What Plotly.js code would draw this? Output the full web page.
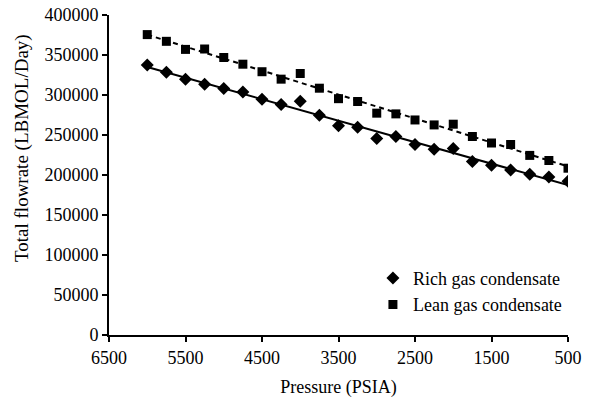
<!DOCTYPE html>
<html>
<head>
<meta charset="utf-8">
<script src="https://cdn.plot.ly/plotly-3.0.1.min.js"></script>
<style>
html,body{margin:0;padding:0;background:#fff;}
#chart{width:589px;height:411px;}
</style>
</head>
<body>
<div id="chart"></div>
<script>
// Data
const pressure = [6000, 5750, 5500, 5250, 5000, 4750, 4500, 4250, 4000, 3750, 3500, 3250,
                  3000, 2750, 2500, 2250, 2000, 1750, 1500, 1250, 1000, 750, 500];
const richGas = [337500, 328500, 319800, 313500, 308000, 303900, 294800, 288100, 292300, 274800, 261500, 259800,
                 245600, 248100, 238100, 232300, 233100, 216900, 212300, 206400, 201000, 197600, 192300];
const leanGas = [375500, 367100, 357000, 357500, 346900, 338500, 329100, 319800, 326900, 308500, 295400, 291900,
                 277300, 276400, 268800, 262600, 263500, 248100, 240000, 238100, 224500, 218100, 208500];
const xTicks = [6500, 5500, 4500, 3500, 2500, 1500, 500];
const yTicks = [0, 50000, 100000, 150000, 200000, 250000, 300000, 350000, 400000];
const seriesNames = ["Rich gas condensate", "Lean gas condensate"];

function linFit(xs, ys) {
  const n = xs.length;
  let sx = 0, sy = 0, sxx = 0, sxy = 0;
  for (let i = 0; i < n; i++) { sx += xs[i]; sy += ys[i]; sxx += xs[i]*xs[i]; sxy += xs[i]*ys[i]; }
  const b = (n*sxy - sx*sy) / (n*sxx - sx*sx);
  const a = (sy - b*sx) / n;
  const x0 = Math.max(...xs), x1 = Math.min(...xs);
  return {x: [x0, x1], y: [a + b*x0, a + b*x1]};
}
const richFit = linFit(pressure, richGas);
const leanFit = linFit(pressure, leanGas);

const FONT = "'Liberation Serif', 'Times New Roman', serif";

const traces = [
  {x: richFit.x, y: richFit.y, mode: 'lines', line: {color: '#000', width: 2}, showlegend: false, hoverinfo: 'skip'},
  {x: leanFit.x, y: leanFit.y, mode: 'lines', line: {color: '#000', width: 2, dash: '5px,4px'}, showlegend: false, hoverinfo: 'skip'},
  {x: pressure, y: richGas, mode: 'markers', name: seriesNames[0],
   marker: {symbol: 'diamond', size: 10, color: '#000'}},
  {x: pressure, y: leanGas, mode: 'markers', name: seriesNames[1],
   marker: {symbol: 'square', size: 9, color: '#000'}}
];

const layout = {
  width: 589, height: 411,
  margin: {l: 109, r: 21, t: 15, b: 76, pad: 0},
  paper_bgcolor: '#fff', plot_bgcolor: '#fff',
  font: {family: FONT, size: 18, color: '#000'},
  showlegend: true,
  legend: {x: 0.575, y: 0.235, xanchor: 'left', yanchor: 'top', bgcolor: 'rgba(0,0,0,0)',
           font: {family: FONT, size: 18, color: '#000'}, tracegroupgap: 0},
  xaxis: {
    range: [6500, 500], tickvals: xTicks, ticktext: xTicks.map(String),
    showgrid: false, zeroline: false, showline: true, linecolor: '#000', linewidth: 2,
    ticks: 'outside', ticklen: 5, tickwidth: 2, tickcolor: '#000',
    tickfont: {family: FONT, size: 18, color: '#000'},
    title: {text: 'Pressure (PSIA)', font: {family: FONT, size: 18, color: '#000'}, standoff: 14}
  },
  yaxis: {
    range: [0, 400000], tickvals: yTicks, ticktext: yTicks.map(String),
    showgrid: false, zeroline: false, showline: true, linecolor: '#000', linewidth: 2,
    ticks: 'outside', ticklen: 5, tickwidth: 2, tickcolor: '#000',
    tickfont: {family: FONT, size: 18, color: '#000'}
  },
  annotations: [{
    text: 'Total flowrate (LBMOL/Day)', textangle: -90,
    xref: 'paper', yref: 'paper', x: (22 - 109) / 459, y: (335 - 148) / 320,
    xanchor: 'center', yanchor: 'middle', showarrow: false,
    font: {family: FONT, size: 19, color: '#000'}
  }]
};

Plotly.newPlot('chart', traces, layout, {displayModeBar: false, staticPlot: true});
</script>
</body>
</html>
